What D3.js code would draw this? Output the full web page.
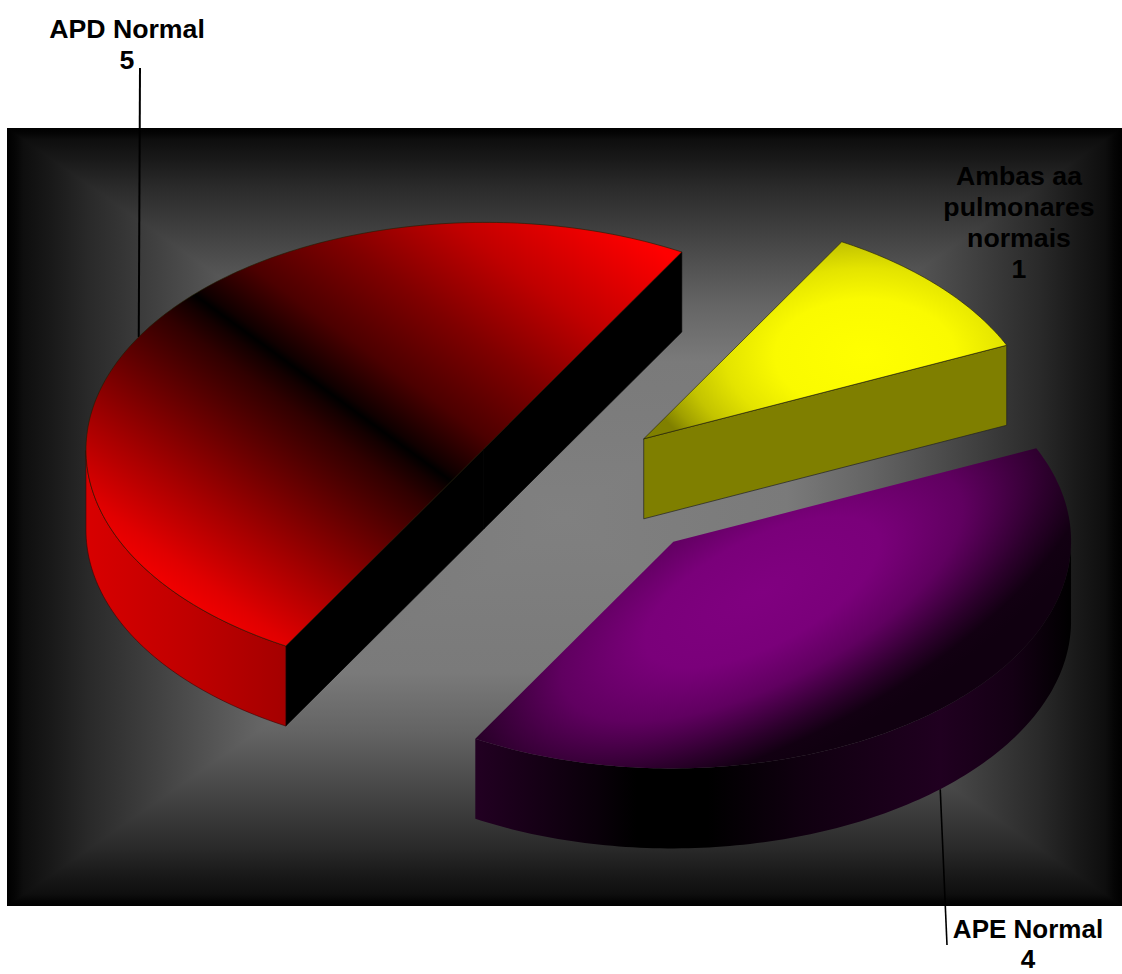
<!DOCTYPE html>
<html><head><meta charset="utf-8">
<script src="https://cdn.jsdelivr.net/npm/d3@7"></script>
<style>html,body{margin:0;padding:0;background:#fff;overflow:hidden}svg{display:block}</style>
</head><body><div id="chart"></div>
<script>
const categories = ["Ambas aa pulmonares normais", "APE Normal", "APD Normal"];
const values = [1, 4, 5];
const explode = [0.25, 0.387, 0.25];
const labelLines = [["Ambas aa","pulmonares","normais","1"],["APE Normal","4"],["APD Normal","5"]];
const labelAnchors = [[1019,185],[1028,938],[127,38]];
const leaderEnds = [null,[947,945],[140,68]];
const wallRadial = ["#7f7f00","#100010","#000000"];

const W=1122,H=974;
const frame={x0:7,x1:1122,y0:128,y1:906};
const proj={cx:570,cy:477,ux:198,uy:-197,vx:345,vy:112,depth:80};
const vec=(a,r=1)=>[r*(proj.ux*Math.cos(a)+proj.vx*Math.sin(a)),r*(proj.uy*Math.cos(a)+proj.vy*Math.sin(a))];

const svg=d3.select("#chart").append("svg").attr("width",W).attr("height",H);
const defs=svg.append("defs");
function grad(id,attrs,stops,type="linearGradient"){
  const g=defs.append(type).attr("id",id).attr("gradientUnits","userSpaceOnUse");
  Object.entries(attrs).forEach(([k,v])=>g.attr(k,v));
  stops.forEach(([o,c])=>g.append("stop").attr("offset",o).attr("stop-color",c));
}
// background: rectangular path gradient
const mx=(frame.x0+frame.x1)/2,my=(frame.y0+frame.y1)/2;
const bgStops=[[0,"#000"],[.014,"#050505"],[.03,"#0e0e0e"],[.08,"#191919"],[.15,"#2a2a2a"],[.3,"#474747"],[.45,"#646464"],[.6,"#7a7a7a"],[1,"#808080"]];
grad("bgT",{x1:0,y1:frame.y0,x2:0,y2:my},bgStops);
grad("bgB",{x1:0,y1:frame.y1,x2:0,y2:my},bgStops);
grad("bgL",{x1:frame.x0,y1:0,x2:mx,y2:0},bgStops);
grad("bgR",{x1:frame.x1,y1:0,x2:mx,y2:0},bgStops);
const c=[[frame.x0,frame.y0],[frame.x1,frame.y0],[frame.x1,frame.y1],[frame.x0,frame.y1]];
const ln=d3.line();
[["bgT",0,1],["bgR",1,2],["bgB",2,3],["bgL",3,0]].forEach(([id,a,b])=>{
  svg.append("path").attr("d",ln([c[a],c[b],[mx,my]])+"Z").attr("fill",`url(#${id})`).attr("shape-rendering","crispEdges");
});

// pie layout: clockwise from U axis
const arcs=d3.pie().sort(null).startAngle(0).endAngle(2*Math.PI)(values);

// face gradients
const rn=[.587,-.809],rc=[450,480];
grad("faceR",{x1:rc[0]+rn[0]*-255,y1:rc[1]+rn[1]*-255,x2:rc[0]+rn[0]*310,y2:rc[1]+rn[1]*310},[
 [0,"#f20000"],[.05,"#e00000"],[.16,"#a80000"],[.27,"#6e0000"],[.39,"#300000"],[.43,"#140000"],[.451,"#000"],[.465,"#100000"],[.55,"#4c0000"],[.68,"#800000"],[.82,"#c00000"],[1,"#ff0000"]]);
grad("wallR",{x1:87,y1:0,x2:287,y2:0},[[0,"#d80000"],[.5,"#c00000"],[1,"#a40000"]]);
grad("faceY",{cx:0,cy:0,r:1,gradientTransform:"translate(865,355) scale(225,140)"},[
 [0,"#ffff00"],[.4,"#fafa00"],[.62,"#e4e400"],[.8,"#c4c400"],[.92,"#a0a000"],[1.0,"#808000"]],"radialGradient");
grad("faceP",{cx:0,cy:0,r:1.1,gradientTransform:"translate(762,592) rotate(-27.3) scale(365,150)"},[
 [0,"#800080"],[.32,"#7a007a"],[.55,"#600060"],[.78,"#2c002c"],[.91,"#120012"],[1,"#100010"]],"radialGradient");
grad("wallP",{x1:475,y1:0,x2:1072,y2:0},[[0,"#220022"],[.2,"#0a000a"],[.27,"#000"],[.39,"#000"],[.55,"#100010"],[.78,"#200020"],[.9,"#140014"],[1,"#000"]]);
const faces=["url(#faceY)","url(#faceP)","url(#faceR)"];
const walls=["#7f7f00","url(#wallP)","url(#wallR)"];

const geo=arcs.map((d,i)=>{
  const mid=(d.startAngle+d.endAngle)/2, m=vec(mid,explode[i]);
  const apex=[proj.cx+m[0],proj.cy+m[1]];
  const n=Math.round((d.endAngle-d.startAngle)/(Math.PI/180))+1;
  const rim=d3.range(n).map(k=>{
    const a=d.startAngle+(d.endAngle-d.startAngle)*k/(n-1), v=vec(a);
    return [apex[0]+v[0],apex[1]+v[1]];
  });
  return {apex,rim,mid};
});

// leader lines
const lead=svg.append("g");
geo.forEach((g,i)=>{
  if(!leaderEnds[i])return;
  const v=vec(g.mid),d=i===1?proj.depth:0;
  lead.append("path").attr("d",ln([[g.apex[0]+v[0],g.apex[1]+v[1]+d],leaderEnds[i]]))
    .attr("fill","none").attr("stroke","#000").attr("stroke-width",i===2?2:1.6);
});

// walls, visible only where the outline runs leftwards on screen
const shift=p=>[p[0],p[1]+proj.depth];
geo.forEach((g,i)=>{
  const G=svg.append("g");
  const rad=[[g.apex,g.rim[0]],[g.rim[g.rim.length-1],g.apex]];
  rad.forEach(([p,q])=>{
    if(q[0]-p[0]<-.01)
      G.append("path").attr("d",ln([p,q,shift(q),shift(p)])+"Z").attr("fill",wallRadial[i])
       .attr("stroke",i===0?"#222":wallRadial[i]).attr("stroke-width",.7);
  });
  const vis=[];
  for(let k=0;k<g.rim.length;k++){
    const prev=g.rim[Math.max(k-1,0)],nx=g.rim[Math.min(k+1,g.rim.length-1)];
    if(nx[0]-prev[0]<0)vis.push(g.rim[k]);
  }
  if(vis.length>1)
    G.append("path").attr("d",ln(vis.concat(vis.slice().reverse().map(shift)))+"Z")
     .attr("fill",walls[i]).attr("stroke",i===2?"#400000":"none").attr("stroke-width",.6);
  G.append("path").attr("d",ln([g.apex,...g.rim])+"Z").attr("fill",faces[i])
   .attr("stroke",i===1?"none":"#201c00").attr("stroke-opacity",.75).attr("stroke-width",.8);
});

// labels
labelLines.forEach((lines,i)=>{
  const t=svg.append("text").attr("text-anchor","middle")
    .attr("font-family","'Liberation Sans',Arial,sans-serif").attr("font-weight","bold")
    .attr("font-size",i===1?26:26.7).attr("fill","#000");
  const step=i===1?30:31;
  lines.forEach((s,k)=>t.append("tspan").attr("x",labelAnchors[i][0]).attr("y",labelAnchors[i][1]+k*step).text(s));
});
</script></body></html>
